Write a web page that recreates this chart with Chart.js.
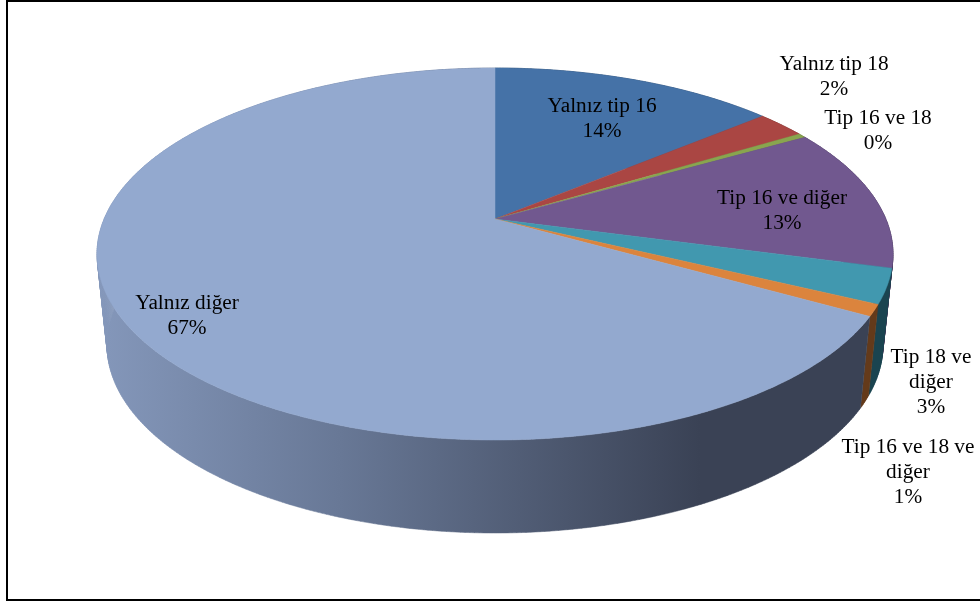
<!DOCTYPE html>
<html lang="tr">
<head>
<meta charset="utf-8">
<title>Pie</title>
<script src="https://cdn.jsdelivr.net/npm/chart.js@4"></script>
<style>
    html, body { margin: 0; padding: 0; background: #fff; overflow: hidden; }
    canvas { display: block; }
</style>
</head>
<body>
<canvas id="pie" width="980" height="603"></canvas>
<script>
// Data
const categories = ['Yalnız tip 16', 'Yalnız tip 18', 'Tip 16 ve 18', 'Tip 16 ve diğer', 'Tip 18 ve diğer', 'Tip 16 ve 18 ve diğer', 'Yalnız diğer'];
const values = [13.9, 2.4, 0.4, 12.5, 3.0, 1.0, 66.8];
const percentLabels = ['14%', '2%', '0%', '13%', '3%', '1%', '67%'];
const colors = ['#4572A7', '#AA4643', '#89A54E', '#71588F', '#4198AF', '#DB843D', '#93A9CF'];
const sideColors = ['#2a4464', '#662a28', '#52632f', '#443556', '#1a4450', '#643a1a', null];

// Label placement: centre x and y of the first line, with the category split into lines
const labelLines = [['Yalnız tip 16'], ['Yalnız tip 18'], ['Tip 16 ve 18'], ['Tip 16 ve diğer'], ['Tip 18 ve', 'diğer'], ['Tip 16 ve 18 ve', 'diğer'], ['Yalnız diğer']];
const labelX = [602, 834, 878, 782, 931, 908, 187];
const labelY = [106, 64, 118, 198, 357, 447, 303];
const lineHeight = 25;

// Projection of the pie: ellipses for the top and the bottom rim,
// and how far the pie centre sits above the centre of the ellipse
const topRim = { x: 495, y: 254, rx: 398, ry: 186 };
const bottomRim = { x: 495, y: 345, rx: 388, ry: 188 };
const centerShift = 0.188;

function project(rim, angle) {
    const X = Math.cos(angle);
    const Y = Math.sin(angle);
    const w = 1 - centerShift * Y;
    return {
        x: rim.x + rim.rx * X * Math.sqrt(1 - centerShift * centerShift) / w,
        y: rim.y + rim.ry * (Y - centerShift) / w
    };
}

function apex(rim) {
    return { x: rim.x, y: rim.y - rim.ry * centerShift };
}

function rimPoints(rim, start, end) {
    const pts = [];
    const steps = Math.max(2, Math.ceil((end - start) / 0.01));
    for (let i = 0; i <= steps; i++) {
        pts.push(project(rim, start + (end - start) * i / steps));
    }
    return pts;
}

// Fills several polygons as one path so no seams show between them
function fillPolygons(ctx, polygons, fill) {
    ctx.beginPath();
    polygons.forEach(pts => {
        pts.forEach((p, i) => i ? ctx.lineTo(p.x, p.y) : ctx.moveTo(p.x, p.y));
        ctx.closePath();
    });
    ctx.fillStyle = fill;
    ctx.strokeStyle = fill;
    ctx.lineWidth = 0.5;
    ctx.fill('nonzero');
    ctx.stroke();
}

// Draws the arcs of the dataset as a solid pie, angles come from the library
const solidPie = {
    id: 'solidPie',
    beforeDatasetDraw(chart) {
        const ctx = chart.ctx;
        const arcs = chart.getDatasetMeta(0).data;

        const sideGradient = ctx.createLinearGradient(100, 0, 700, 0);
        sideGradient.addColorStop(0, '#8497ba');
        sideGradient.addColorStop(0.4, '#687896');
        sideGradient.addColorStop(1, '#3a4255');

        // walls first, the top face hides the back of them
        arcs.forEach((arc, i) => {
            const top = rimPoints(topRim, arc.startAngle, arc.endAngle);
            const bottom = rimPoints(bottomRim, arc.startAngle, arc.endAngle);
            const quads = [];
            for (let k = 0; k < top.length - 1; k++) {
                quads.push([top[k], top[k + 1], bottom[k + 1], bottom[k]]);
            }
            fillPolygons(ctx, quads, sideColors[i] || sideGradient);
        });

        arcs.forEach((arc, i) => {
            const pts = [apex(topRim)].concat(rimPoints(topRim, arc.startAngle, arc.endAngle));
            fillPolygons(ctx, [pts], colors[i]);
        });
        return false;
    },
    afterDraw(chart) {
        const ctx = chart.ctx;
        ctx.save();
        ctx.fillStyle = '#000';
        ctx.font = '21.3px "Liberation Serif"';
        ctx.textAlign = 'center';
        ctx.textBaseline = 'middle';
        labelLines.forEach((lines, i) => {
            lines.concat(percentLabels[i]).forEach((line, j) => {
                ctx.fillText(line, labelX[i], labelY[i] + j * lineHeight);
            });
        });

        // frame
        ctx.strokeStyle = '#000';
        ctx.lineWidth = 2;
        ctx.beginPath();
        ctx.moveTo(7, 600);
        ctx.lineTo(7, 1);
        ctx.lineTo(980, 1);
        ctx.moveTo(6, 600);
        ctx.lineTo(980, 600);
        ctx.stroke();
        ctx.restore();
    }
};

new Chart(document.getElementById('pie'), {
    type: 'pie',
    data: {
        labels: categories,
        datasets: [{ data: values, backgroundColor: colors, borderWidth: 0 }]
    },
    options: {
        responsive: false,
        animation: false,
        plugins: {
            legend: { display: false },
            tooltip: { enabled: false }
        }
    },
    plugins: [solidPie]
});
</script>
</body>
</html>
